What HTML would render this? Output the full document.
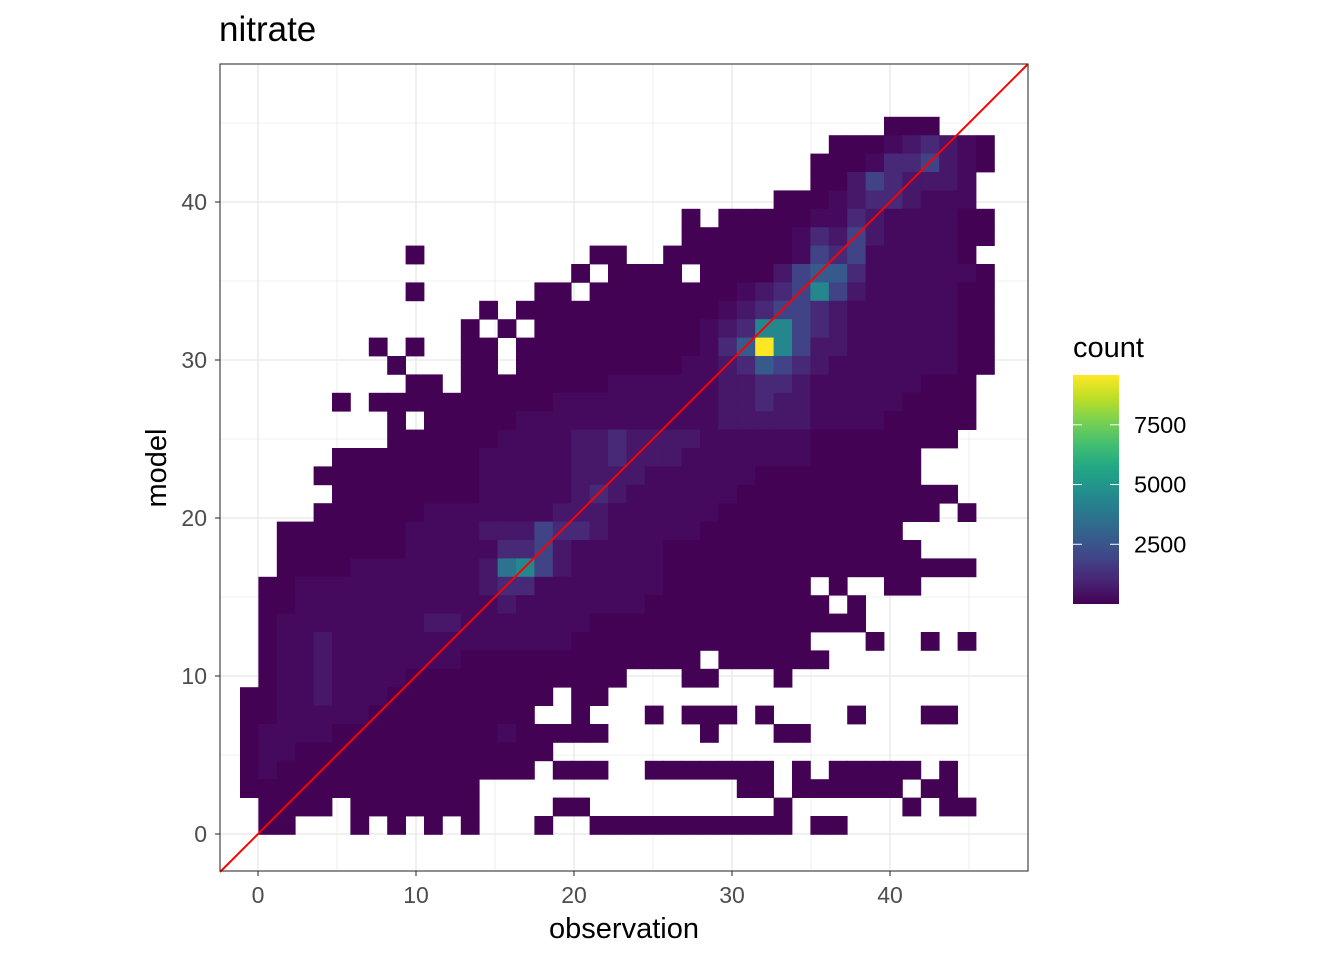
<!DOCTYPE html>
<html><head><meta charset="utf-8"><style>
html,body{margin:0;padding:0;background:#fff;}
svg{display:block;font-family:"Liberation Sans",sans-serif;}
</style></head><body>
<svg id="chart" width="1344" height="960" viewBox="0 0 1344 960" xmlns="http://www.w3.org/2000/svg">
<text x="219" y="41" font-size="35" fill="#000">nitrate</text>
<g id="grid"></g>
<g id="cells"></g>
<g id="diag"></g>
<rect x="220" y="64" width="808" height="807" fill="none" stroke="#333" stroke-width="1.1"/>
<g id="axes"></g>
<text x="624" y="938" font-size="29" text-anchor="middle" fill="#000">observation</text>
<text transform="translate(166,468) rotate(-90)" font-size="29" text-anchor="middle" fill="#000">model</text>
<g id="legend">
<text x="1073" y="357" font-size="29" fill="#000">count</text>
<defs><linearGradient id="vg" x1="0" y1="1" x2="0" y2="0">
<stop offset="0" stop-color="#440154"/><stop offset="0.1" stop-color="#482475"/><stop offset="0.2" stop-color="#414487"/><stop offset="0.3" stop-color="#355f8d"/><stop offset="0.4" stop-color="#2a788e"/><stop offset="0.5" stop-color="#21918c"/><stop offset="0.6" stop-color="#22a884"/><stop offset="0.7" stop-color="#44bf70"/><stop offset="0.8" stop-color="#7ad151"/><stop offset="0.9" stop-color="#bddf26"/><stop offset="1" stop-color="#fde725"/>
</linearGradient></defs>
<rect x="1073" y="375" width="46" height="229" fill="url(#vg)"/>
</g>
</svg>
<script>
// Heatmap data: rows from top (model bin 38) to bottom (bin 0); one char per observation bin (41 bins).
// '.' = no data; digits index into levelCounts.
const levelCounts = [40, 250, 600, 1100, 1900, 2700, 3600, 4400, 6500, 9583];
const D = n => ".".repeat(n), Z = n => "0".repeat(n);
const gridRows = [
D(35)+"000"+D(3),
D(32)+"000123210",
D(31)+"0001334210",
D(31)+"002432221"+".",
D(29)+"00012332111"+".",
D(24)+"0."+"000001132111100",
D(24)+"00000"+"013242111100",
D(9)+"0"+D(9)+"00.."+Z(7)+"1434111110"+".",
D(18)+"0.0000.0000"+"245531111110",
D(9)+"0"+D(6)+"00."+Z(8)+"12347421111100",
D(13)+"0."+Z(11)+"1234432"+"111111"+"00",
D(12)+"0.0."+Z(9)+"1237743"+"2"+"111111"+"00",
D(7)+"0.0..00."+Z(10)+"13597422"+"111111"+"00",
D(8)+"0...00."+Z(9)+"11235432"+"1111111"+"00",
D(9)+"00."+Z(8)+"111111"+"22332"+"111111"+"000"+".",
D(5)+"0."+Z(10)+"111111111"+"22322"+"11111"+"0000"+".",
D(8)+"0."+Z(5)+"1111111111"+"122222"+"1111"+"00000"+".",
D(8)+Z(6)+"1111"+"22322"+"2211"+"1111"+Z(8)+"..",
D(5)+Z(8)+"11111"+"2232"+"2211"+"11111"+Z(6)+"....",
D(4)+Z(9)+"111"+"11222"+"21"+"11111"+Z(9)+"....",
D(5)+Z(8)+"111"+"112321"+"11111"+Z(12)+"..",
D(4)+"0000001111"+"1112221"+"11111"+Z(12)+".0.",
D(2)+Z(7)+"111"+"122243321"+"1111"+Z(11)+".....",
D(2)+Z(7)+"1111"+"13342"+"11111"+Z(14)+"....",
D(2)+"0000111"+"111"+"126742"+"11111"+Z(17)+".",
"."+"001111111"+"111"+"2331"+"111111"+Z(8)+".0..00....",
"."+"00111111"+"11111"+"211"+"11111"+Z(10)+".0.......",
"."+"01111111122"+"1111111"+Z(15)+D(7),
"."+"01121111111111111"+Z(13)+"...0..0.0.",
"."+"0112111111100"+Z(11)+"."+Z(6)+D(9),
"."+"01121111000000000000"+"..."+"00"+"..."+"0"+D(11),
"00112111000000000.00"+D(21),
"0011111000000000..0...0.000.0....0...00..",
"01111000000000100000.....0...00..........",
"01100000000000000"+D(24),
"0100000000000000.000..0000000.0.00000.0..",
Z(13)+D(14)+"00.000000.00..",
".0000.0000000....00"+D(10)+"0"+D(6)+"0.00.",
".00...0.0.0.0...0.."+Z(11)+".00"+D(8)
];
const xTicks = [0, 10, 20, 30, 40];
const yTicks = [0, 10, 20, 30, 40];
const xMinor = [5, 15, 25, 35, 45];
const yMinor = [5, 15, 25, 35, 45];
const countTicks = [2500, 5000, 7500];
const countMin = 1, countMax = 9583;
const binWidth = 1.16456, binX0 = -1.1392, binY0 = -0.0253;
</script>
<script>
for (let i = 0; i < gridRows.length; i++) {
  let s = gridRows[i];
  if (s.length > 41) s = s.slice(0, 41);
  while (s.length < 41) s += ".";
  gridRows[i] = s;
}
const NS = "http://www.w3.org/2000/svg";
const PX = 15.8;
const sx = v => 258 + PX * v;
const sy = v => 834 - PX * v;
const stops = ["#440154","#482475","#414487","#355f8d","#2a788e","#21918c","#22a884","#44bf70","#7ad151","#bddf26","#fde725"];
function hex(h){return [parseInt(h.slice(1,3),16),parseInt(h.slice(3,5),16),parseInt(h.slice(5,7),16)];}
function viridis(t){
  t = Math.max(0, Math.min(1, t));
  const p = t * 10, i = Math.min(9, Math.floor(p)), f = p - i;
  const a = hex(stops[i]), b = hex(stops[i+1]);
  return "rgb(" + a.map((c,k)=>Math.round(c+(b[k]-c)*f)).join(",") + ")";
}
function mk(tag, attrs, parent){
  const e = document.createElementNS(NS, tag);
  for (const k in attrs) e.setAttribute(k, attrs[k]);
  parent.appendChild(e);
  return e;
}
const grid = document.getElementById("grid");
xMinor.forEach(v => {
  const l = mk("line", {x1: sx(v), x2: sx(v), y1: 64, y2: 871, stroke: "#ebebeb", "stroke-width": 0.8}, grid);
  
  
});
yMinor.forEach(v => {
  const l = mk("line", {x1: 220, x2: 1028, y1: sy(v), y2: sy(v), stroke: "#ebebeb", "stroke-width": 0.8}, grid);
  
  
});
xTicks.forEach(v => {
  const l = mk("line", {x1: sx(v), x2: sx(v), y1: 64, y2: 871, stroke: "#ebebeb", "stroke-width": 1.6}, grid);
  
  
});
yTicks.forEach(v => {
  const l = mk("line", {x1: 220, x2: 1028, y1: sy(v), y2: sy(v), stroke: "#ebebeb", "stroke-width": 1.6}, grid);
  
  
});

const cells = document.getElementById("cells");
const nRows = gridRows.length;
gridRows.forEach((row, ri) => {
  const yb = nRows - 1 - ri;
  for (let c = 0; c < row.length; c++) {
    const ch = row[c];
    if (ch === ".") continue;
    const count = levelCounts[+ch];
    const x0 = sx(binX0 + c * binWidth), x1 = sx(binX0 + (c + 1) * binWidth);
    const y1 = sy(binY0 + yb * binWidth), y0 = sy(binY0 + (yb + 1) * binWidth);
    const r = mk("rect", {x: x0, y: y0, width: x1 - x0 + 0.4, height: y1 - y0 + 0.4,
      fill: viridis((count - countMin) / (countMax - countMin))}, cells);
    
    
  }
});

const diag = document.getElementById("diag");
const dmin = (220 - 258) / PX, dmax = (1028 - 258) / PX;
const dl = mk("line", {x1: sx(dmin), y1: sy(dmin), x2: sx(dmax), y2: sy(dmax), stroke: "#ff0000", "stroke-width": 2}, diag);



const axes = document.getElementById("axes");
xTicks.forEach(v => {
  const t = mk("line", {x1: sx(v), x2: sx(v), y1: 871, y2: 876, stroke: "#333", "stroke-width": 1.1}, axes);
  
  
  const lb = mk("text", {x: sx(v), y: 903, "font-size": 23, "text-anchor": "middle", fill: "#4d4d4d"}, axes);
  lb.textContent = v;
  
  
});
yTicks.forEach(v => {
  const t = mk("line", {x1: 215, x2: 220, y1: sy(v), y2: sy(v), stroke: "#333", "stroke-width": 1.1}, axes);
  
  
  const lb = mk("text", {x: 207, y: sy(v) + 8, "font-size": 23, "text-anchor": "end", fill: "#4d4d4d"}, axes);
  lb.textContent = v;
  
  
});

const legend = document.getElementById("legend");
const ly = v => 604 - (v - countMin) / (countMax - countMin) * 229;
countTicks.forEach(v => {
  const a = mk("line", {x1: 1073, x2: 1082, y1: ly(v), y2: ly(v), stroke: "#fff", "stroke-width": 1}, legend);
  
  
  const b = mk("line", {x1: 1110, x2: 1119, y1: ly(v), y2: ly(v), stroke: "#fff", "stroke-width": 1}, legend);
  
  
  const lb = mk("text", {x: 1134, y: ly(v) + 8, "font-size": 23.5, fill: "#000"}, legend);
  lb.textContent = v;
  
  
});
</script>
</body></html>
